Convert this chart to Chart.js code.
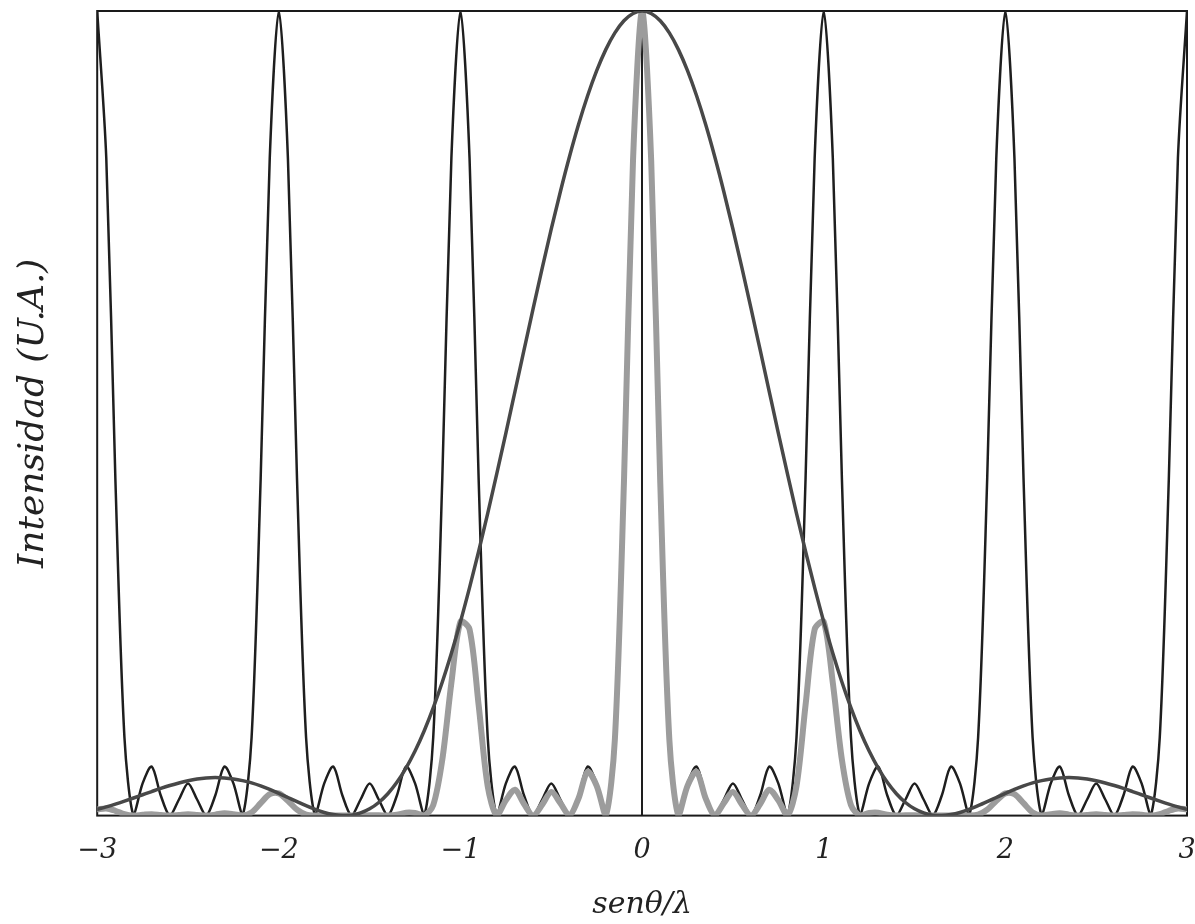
<!DOCTYPE html>
<html>
<head>
<meta charset="utf-8">
<script src="https://cdn.jsdelivr.net/npm/chart.js@4.4.1/dist/chart.umd.min.js"></script>
<style>
  html, body { margin: 0; padding: 0; background: #fff; }
  #wrap { width: 1195px; height: 924px; }
</style>
</head>
<body>
<div id="wrap"><canvas id="myChart"></canvas></div>
<script>
// sample positions, sen(theta)/lambda
const xValues = [
  -3, -2.95, -2.9, -2.85, -2.8, -2.75, -2.7, -2.65, -2.6, -2.55,
  -2.5, -2.45, -2.4, -2.35, -2.3, -2.25, -2.2, -2.15, -2.1, -2.05,
  -2, -1.95, -1.9, -1.85, -1.8, -1.75, -1.7, -1.65, -1.6, -1.55,
  -1.5, -1.45, -1.4, -1.35, -1.3, -1.25, -1.2, -1.15, -1.1, -1.05,
  -1, -0.95, -0.9, -0.85, -0.8, -0.75, -0.7, -0.65, -0.6, -0.55,
  -0.5, -0.45, -0.4, -0.35, -0.3, -0.25, -0.2, -0.15, -0.1, -0.05,
  0,
  0.05, 0.1, 0.15, 0.2, 0.25, 0.3, 0.35, 0.4, 0.45, 0.5,
  0.55, 0.6, 0.65, 0.7, 0.75, 0.8, 0.85, 0.9, 0.95, 1,
  1.05, 1.1, 1.15, 1.2, 1.25, 1.3, 1.35, 1.4, 1.45, 1.5,
  1.55, 1.6, 1.65, 1.7, 1.75, 1.8, 1.85, 1.9, 1.95, 2,
  2.05, 2.1, 2.15, 2.2, 2.25, 2.3, 2.35, 2.4, 2.45, 2.5,
  2.55, 2.6, 2.65, 2.7, 2.75, 2.8, 2.85, 2.9, 2.95, 3
];

// thin black curve (interference)
const gratingValues = [
  1, 0.817, 0.419, 0.097, 0, 0.040, 0.061, 0.025, 0, 0.020, 0.040, 0.020, 0, 0.025, 0.061, 0.040, 0, 0.097, 0.419, 0.817,
  1, 0.817, 0.419, 0.097, 0, 0.040, 0.061, 0.025, 0, 0.020, 0.040, 0.020, 0, 0.025, 0.061, 0.040, 0, 0.097, 0.419, 0.817,
  1, 0.817, 0.419, 0.097, 0, 0.040, 0.061, 0.025, 0, 0.020, 0.040, 0.020, 0, 0.025, 0.061, 0.040, 0, 0.097, 0.419, 0.817,
  1, 0.817, 0.419, 0.097, 0, 0.040, 0.061, 0.025, 0, 0.020, 0.040, 0.020, 0, 0.025, 0.061, 0.040, 0, 0.097, 0.419, 0.817,
  1, 0.817, 0.419, 0.097, 0, 0.040, 0.061, 0.025, 0, 0.020, 0.040, 0.020, 0, 0.025, 0.061, 0.040, 0, 0.097, 0.419, 0.817,
  1, 0.817, 0.419, 0.097, 0, 0.040, 0.061, 0.025, 0, 0.020, 0.040, 0.020, 0, 0.025, 0.061, 0.040, 0, 0.097, 0.419, 0.817,
  1
];

// dark grey curve (diffraction envelope)
const envelopeValues = [
  0.0078, 0.0109, 0.0143, 0.0180, 0.0219, 0.0259, 0.0299, 0.0338, 0.0374, 0.0406,
  0.0433, 0.0454, 0.0467, 0.0472, 0.0468, 0.0456, 0.0435, 0.0406, 0.0369, 0.0325,
  0.0277, 0.0225, 0.0173, 0.0123, 0.0077, 0.0039, 0.0013, 0.0000, 0.0006, 0.0033,
  0.0084, 0.0163, 0.0272, 0.0414, 0.0591, 0.0803, 0.1052, 0.1338, 0.1661, 0.2019,
  0.2410, 0.2833, 0.3282, 0.3756, 0.4249, 0.4755, 0.5270, 0.5787, 0.6301, 0.6805,
  0.7291, 0.7754, 0.8188, 0.8588, 0.8946, 0.9258, 0.9520, 0.9728, 0.9878, 0.9969,
  1.0000,
  0.9969, 0.9878, 0.9728, 0.9520, 0.9258, 0.8946, 0.8588, 0.8188, 0.7754, 0.7291,
  0.6805, 0.6301, 0.5787, 0.5270, 0.4755, 0.4249, 0.3756, 0.3282, 0.2833, 0.2410,
  0.2019, 0.1661, 0.1338, 0.1052, 0.0803, 0.0591, 0.0414, 0.0272, 0.0163, 0.0084,
  0.0033, 0.0006, 0.0000, 0.0013, 0.0039, 0.0077, 0.0123, 0.0173, 0.0225, 0.0277,
  0.0325, 0.0369, 0.0406, 0.0435, 0.0456, 0.0468, 0.0472, 0.0467, 0.0454, 0.0433,
  0.0406, 0.0374, 0.0338, 0.0299, 0.0259, 0.0219, 0.0180, 0.0143, 0.0109, 0.0078
];

// light grey thick curve (total pattern)
const productValues = [
  0.0078, 0.0089, 0.0060, 0.0017, 0, 0.0010, 0.0018, 0.0008, 0, 0.0008,
  0.0017, 0.0009, 0, 0.0012, 0.0029, 0.0018, 0, 0.0039, 0.0154, 0.0266,
  0.0277, 0.0184, 0.0073, 0.0012, 0, 0.0002, 0.0001, 0, 0, 0.0001,
  0.0003, 0.0003, 0, 0.0010, 0.0036, 0.0032, 0, 0.0130, 0.0696, 0.1650,
  0.2410, 0.2315, 0.1375, 0.0364, 0, 0.0190, 0.0321, 0.0145, 0, 0.0136,
  0.0292, 0.0155, 0, 0.0215, 0.0546, 0.0370, 0, 0.0944, 0.4139, 0.8145,
  1.0000,
  0.8145, 0.4139, 0.0944, 0, 0.0370, 0.0546, 0.0215, 0, 0.0155, 0.0292,
  0.0136, 0, 0.0145, 0.0321, 0.0190, 0, 0.0364, 0.1375, 0.2315, 0.2410,
  0.1650, 0.0696, 0.0130, 0, 0.0032, 0.0036, 0.0010, 0, 0.0003, 0.0003,
  0.0001, 0, 0, 0.0001, 0.0002, 0, 0.0012, 0.0073, 0.0184, 0.0277,
  0.0266, 0.0154, 0.0039, 0, 0.0018, 0.0029, 0.0012, 0, 0.0009, 0.0017,
  0.0008, 0, 0.0008, 0.0018, 0.0010, 0, 0.0017, 0.0060, 0.0089, 0.0078
];

const xTicks = [-3, -2, -1, 0, 1, 2, 3];
const xTickLabels = ['\u22123', '\u22122', '\u22121', '0', '1', '2', '3'];

function toPoints(values) {
  return xValues.map((x, i) => ({ x: x, y: values[i] }));
}

// box around the plot area
const frame = {
  id: 'frame',
  beforeDatasetsDraw(chart) {
    const a = chart.chartArea;
    const c = chart.ctx;
    c.save();
    c.strokeStyle = '#1a1a1a';
    c.lineWidth = 2;
    c.strokeRect(a.left, a.top, a.right - a.left, a.bottom - a.top);
    c.restore();
  }
};

const serif = 'DejaVu Serif';

const ctx = document.getElementById('myChart').getContext('2d');
const myChart = new Chart(ctx, {
  type: 'line',
  data: {
    datasets: [
      {
        label: 'envolvente',
        data: toPoints(envelopeValues),
        borderColor: '#484848',
        borderWidth: 3.5,
        cubicInterpolationMode: 'monotone',
        order: 1
      },
      {
        label: 'total',
        data: toPoints(productValues),
        borderColor: '#9c9c9c',
        borderWidth: 6,
        tension: 0.3,
        order: 2
      },
      {
        label: 'interferencia',
        data: toPoints(gratingValues),
        borderColor: '#1e1e1e',
        borderWidth: 2.5,
        tension: 0.3,
        order: 3
      }
    ]
  },
  options: {
    responsive: true,
    maintainAspectRatio: false,
    animation: false,
    layout: { padding: { top: 11, right: 8, left: 0, bottom: 0 } },
    elements: {
      point: { radius: 0 },
      line: { borderJoinStyle: 'round', borderCapStyle: 'round', capBezierPoints: true }
    },
    plugins: {
      legend: { display: false },
      tooltip: { enabled: false }
    },
    scales: {
      x: {
        type: 'linear',
        min: -3,
        max: 3,
        afterBuildTicks(scale) {
          scale.ticks = xTicks.map(v => ({ value: v }));
        },
        afterFit(scale) {
          scale.paddingLeft = 0;
          scale.paddingRight = 0;
        },
        ticks: {
          padding: 19,
          color: '#222',
          font: { family: serif, style: 'italic', size: 27 },
          callback: v => xTickLabels[xTicks.indexOf(v)]
        },
        grid: {
          drawTicks: false,
          lineWidth: 2,
          color: c => (c.tick && c.tick.value === 0) ? '#1e1e1e' : 'rgba(0,0,0,0)'
        },
        border: { display: false },
        title: {
          display: true,
          text: 'sen\u03B8/\u03BB',
          color: '#222',
          font: { family: serif, style: 'italic', size: 30 },
          padding: { top: 1, bottom: 1 }
        }
      },
      y: {
        min: 0,
        max: 1,
        ticks: { display: false },
        grid: { display: false, drawTicks: false },
        border: { display: false },
        title: {
          display: true,
          text: 'Intensidad (U.A.)',
          color: '#222',
          font: { family: serif, style: 'italic', size: 36 },
          padding: { top: 12, bottom: 42 }
        }
      }
    }
  },
  plugins: [frame]
});
</script>
</body>
</html>
